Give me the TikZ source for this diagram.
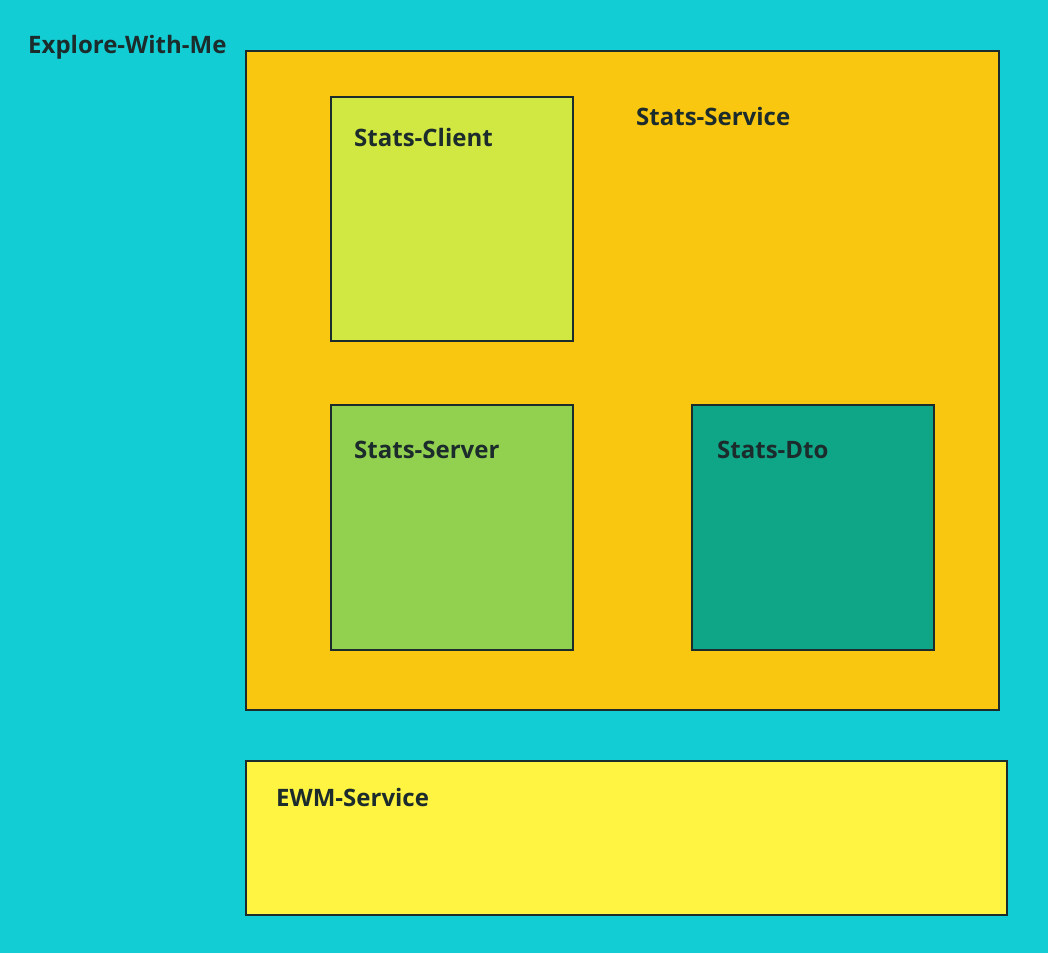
\documentclass[tikz,border=0pt]{standalone}
\usepackage{fontspec}
\setmainfont{Open Sans}
\usepackage{tikz}
\definecolor{bgcyan}{HTML}{12CDD4}
\definecolor{svcorange}{HTML}{F9C710}
\definecolor{clientgreen}{HTML}{D1E742}
\definecolor{servergreen}{HTML}{92D14F}
\definecolor{dtogreen}{HTML}{0FA687}
\definecolor{ewmyellow}{HTML}{FFF442}
\definecolor{inkdark}{HTML}{1C2B2B}
\tikzset{
  box/.style={draw=inkdark, line width=1.6pt},
  lbl/.style={anchor=base west, inner sep=0pt, text=inkdark, font=\fontsize{24}{28}\selectfont\bfseries}
}
\begin{document}
\begin{tikzpicture}[x=1pt, y=-1pt]
\fill[bgcyan] (0,0) rectangle (1048,953);
\useasboundingbox (0,0) rectangle (1048,953);
\node[lbl] (ewm) at (28,53) {Explore-With-Me} ;
\draw[box, fill=svcorange] (246,51) rectangle (999,710) ;
\node[lbl] (svc) at (636,125) {Stats-Service} ;
\draw[box, fill=clientgreen] (331,97) rectangle (573,341) ;
\node[lbl] (client) at (354,146) {Stats-Client} ;
\draw[box, fill=servergreen] (331,405) rectangle (573,650) ;
\node[lbl] (server) at (354,458) {Stats-Server} ;
\draw[box, fill=dtogreen] (692,405) rectangle (934,650) ;
\node[lbl] (dto) at (717,458) {Stats-Dto} ;
\draw[box, fill=ewmyellow] (246,761) rectangle (1007,915) ;
\node[lbl] (ewmsvc) at (276,806) {EWM-Service} ;
\end{tikzpicture}
\end{document}
